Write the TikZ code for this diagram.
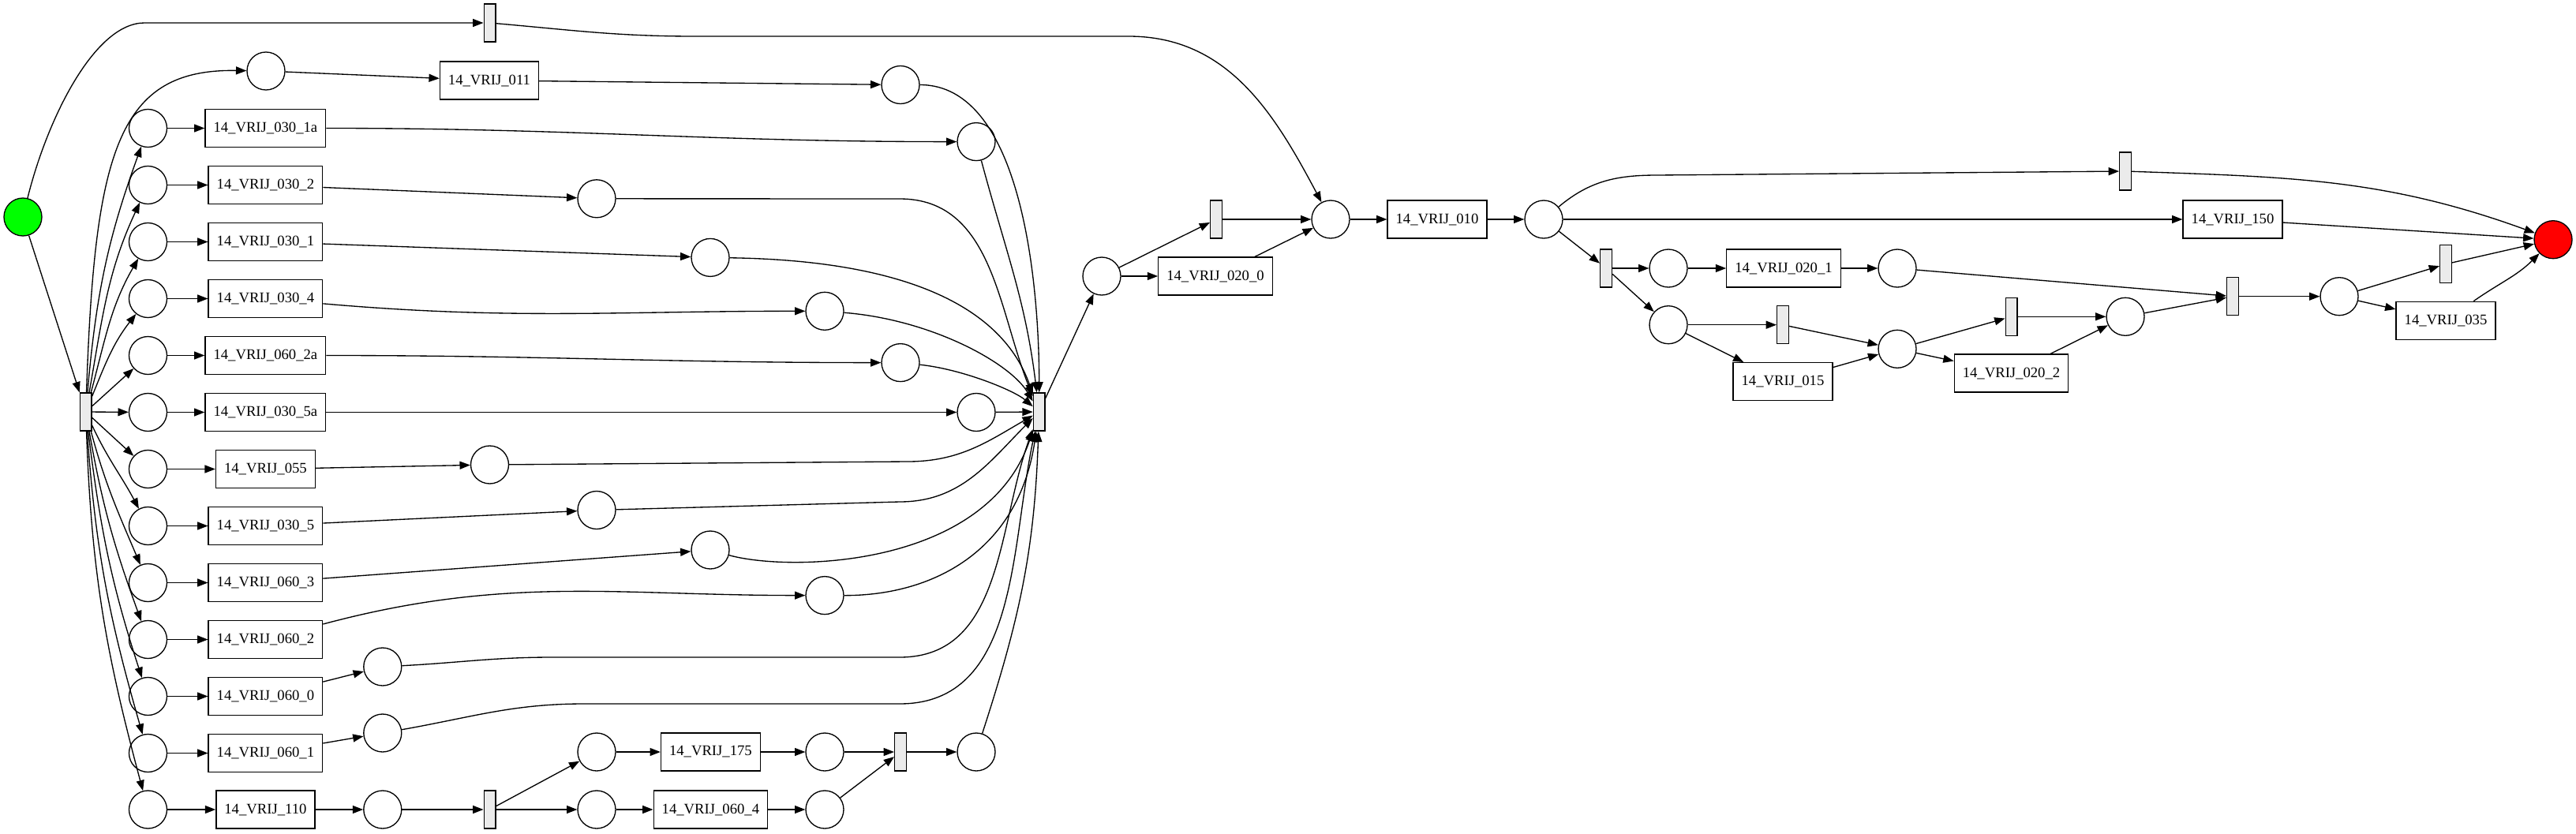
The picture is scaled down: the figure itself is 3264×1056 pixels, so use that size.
\documentclass[tikz,border=0pt]{standalone}
\usepackage{fontspec}
\setmainfont{Liberation Serif}
\usetikzlibrary{arrows.meta}
\definecolor{silentgray}{HTML}{EBEBEB}
\definecolor{startgreen}{HTML}{00FF00}
\definecolor{endred}{HTML}{FF0000}

\begin{document}
\begin{tikzpicture}[
  x=0.75pt, y=0.75pt,
  >={Triangle[length=10pt,width=7.5pt]},
  line/.style={draw=black, line width=1pt},
  arrow/.style={->, draw=black, line width=1pt},
  place/.style={line, circle, minimum size=36pt, inner sep=0pt},
  silent/.style={line, fill=silentgray, minimum width=11pt, minimum height=36pt, inner sep=0pt},
  task/.style={line, minimum height=36pt, inner xsep=7.9pt, inner ysep=0pt, font=\fontsize{14}{16}\selectfont}
]
\useasboundingbox (0,0) rectangle (3264,-1056);

\node[place, fill=startgreen] (source) at (29,-275) {};
\node[silent] (tauFork) at (108.7,-522) {};
\node[silent] (tauTop) at (620.5,-29) {};

\node[place] (pIn011) at (337,-90) {};
\node[task] (a011) at (620,-102) {14\_VRIJ\_011};
\node[place] (pOut011) at (1141,-107.5) {};

\node[place] (pIn030a) at (187.5,-162.5) {};
\node[task] (a030a) at (336.4,-162.5) {14\_VRIJ\_030\_1a};
\node[place] (pOut030a) at (1237,-179.6) {};

\node[place] (pIn0302) at (187.5,-234.5) {};
\node[task] (a0302) at (336.4,-234.5) {14\_VRIJ\_030\_2};
\node[place] (pOut0302) at (756,-251.8) {};

\node[place] (pIn0301) at (187.5,-306.5) {};
\node[task] (a0301) at (336.4,-306.5) {14\_VRIJ\_030\_1};
\node[place] (pOut0301) at (900,-326.4) {};

\node[place] (pIn0304) at (187.5,-378.5) {};
\node[task] (a0304) at (336.4,-378.5) {14\_VRIJ\_030\_4};
\node[place] (pOut0304) at (1045,-394.3) {};

\node[place] (pIn0602a) at (187.5,-450.5) {};
\node[task] (a0602a) at (336.4,-450.5) {14\_VRIJ\_060\_2a};
\node[place] (pOut0602a) at (1141,-459.6) {};

\node[place] (pIn0305a) at (187.5,-522.5) {};
\node[task] (a0305a) at (336.4,-522.5) {14\_VRIJ\_030\_5a};
\node[place] (pOut0305a) at (1237,-522.5) {};

\node[place] (pIn055) at (187.5,-594.5) {};
\node[task] (a055) at (336.4,-594.5) {14\_VRIJ\_055};
\node[place] (pOut055) at (620.5,-589) {};

\node[place] (pIn0305) at (187.5,-666.5) {};
\node[task] (a0305) at (336.4,-666.5) {14\_VRIJ\_030\_5};
\node[place] (pOut0305) at (756,-646.5) {};

\node[place] (pIn0603) at (187.5,-738.5) {};
\node[task] (a0603) at (336.4,-738.5) {14\_VRIJ\_060\_3};
\node[place] (pOut0603) at (900,-697) {};

\node[place] (pIn0602) at (187.5,-810.5) {};
\node[task] (a0602) at (336.4,-810.5) {14\_VRIJ\_060\_2};
\node[place] (pOut0602) at (1045,-754.6) {};

\node[place] (pIn0600) at (187.5,-882.5) {};
\node[task] (a0600) at (336.4,-882.5) {14\_VRIJ\_060\_0};
\node[place] (pOut0600) at (484.8,-845) {};

\node[place] (pIn0601) at (187.5,-954.5) {};
\node[task] (a0601) at (336.4,-954.5) {14\_VRIJ\_060\_1};
\node[place] (pOut0601) at (484.8,-929) {};

\node[place] (pIn110) at (187.5,-1026) {};
\node[task] (a110) at (336.4,-1026) {14\_VRIJ\_110};
\node[place] (pOut110) at (484.8,-1026) {};

\node[silent] (tauSplit) at (620.5,-1026) {};
\node[place] (pIn175) at (756,-953) {};
\node[task] (a175) at (900.4,-953) {14\_VRIJ\_175};
\node[place] (pOut175) at (1045,-953) {};
\node[place] (pIn0604) at (756,-1026) {};
\node[task] (a0604) at (900.4,-1026) {14\_VRIJ\_060\_4};
\node[place] (pOut0604) at (1045,-1026) {};
\node[silent] (tauSync) at (1141,-953) {};
\node[place] (pSync) at (1237,-953) {};

\node[silent] (tauJoin) at (1316.7,-522) {};
\node[place] (pJoin) at (1396,-350) {};
\node[silent] (tauSkip0200) at (1541,-278) {};
\node[task] (a0200) at (1540,-350) {14\_VRIJ\_020\_0};
\node[place] (pIn010) at (1686,-278) {};
\node[task] (a010) at (1821,-278) {14\_VRIJ\_010};
\node[place] (pOut010) at (1956,-278) {};

\node[silent] (tauSkip150) at (2693,-217) {};
\node[task] (a150) at (2829,-278) {14\_VRIJ\_150};
\node[silent] (tauAnd) at (2035,-340) {};
\node[place] (pIn0201) at (2114,-340) {};
\node[task] (a0201) at (2260,-340) {14\_VRIJ\_020\_1};
\node[place] (pOut0201) at (2404,-340) {};
\node[place] (pIn015) at (2114,-411.7) {};
\node[silent] (tauSkip015) at (2259,-411.7) {};
\node[task] (a015) at (2259,-483.7) {14\_VRIJ\_015};
\node[place] (pOut015) at (2404,-442.3) {};
\node[silent] (tauSkip0202) at (2548.5,-401.3) {};
\node[task] (a0202) at (2548.5,-473) {14\_VRIJ\_020\_2};
\node[place] (pOut0202) at (2693,-401.3) {};
\node[silent] (tauSync2) at (2829,-375.7) {};
\node[place] (pIn035) at (2964,-375.7) {};
\node[silent] (tauSkip035) at (3099,-334.7) {};
\node[task] (a035) at (3099,-406.3) {14\_VRIJ\_035};
\node[place, fill=endred] (sink) at (3235,-303.7) {};

\draw[arrow] (source) -- (tauFork);
\draw[arrow] (source) .. controls (60,-150) and (120,-29) .. (183,-29) -- (tauTop);
\draw[arrow] (tauFork) .. controls (120,-190) and (150,-87) .. (pIn011);
\draw[arrow] (pIn011) -- (a011);
\draw[arrow] (a011) -- (pOut011);

\draw[arrow] (tauFork) to[out=85,in=250] (pIn030a);
\draw[arrow] (tauFork) to[out=80,in=245] (pIn0302);
\draw[arrow] (tauFork) to[out=75,in=240] (pIn0301);
\draw[arrow] (tauFork) to[out=68,in=232] (pIn0304);
\draw[arrow] (tauFork) -- (pIn0602a);
\draw[arrow] (tauFork) -- (pIn0305a);
\draw[arrow] (tauFork) -- (pIn055);
\draw[arrow] (tauFork) to[out=-65,in=118] (pIn0305);
\draw[arrow] (tauFork) to[out=-75,in=113] (pIn0603);
\draw[arrow] (tauFork) to[out=-80,in=110] (pIn0602);
\draw[arrow] (tauFork) to[out=-83,in=108] (pIn0600);
\draw[arrow] (tauFork) to[out=-86,in=106] (pIn0601);
\draw[arrow] (tauFork) to[out=-88,in=105] (pIn110);

\draw[arrow] (pIn030a) -- (a030a);
\draw[arrow] (pIn0302) -- (a0302);
\draw[arrow] (pIn0301) -- (a0301);
\draw[arrow] (pIn0304) -- (a0304);
\draw[arrow] (pIn0602a) -- (a0602a);
\draw[arrow] (pIn0305a) -- (a0305a);
\draw[arrow] (pIn055) -- (a055);
\draw[arrow] (pIn0305) -- (a0305);
\draw[arrow] (pIn0603) -- (a0603);
\draw[arrow] (pIn0602) -- (a0602);
\draw[arrow] (pIn0600) -- (a0600);
\draw[arrow] (pIn0601) -- (a0601);
\draw[arrow] (pIn110) -- (a110);

\draw[arrow] (a030a) to[out=0,in=180] (pOut030a);
\draw[arrow] (a0302) -- (pOut0302);
\draw[arrow] (a0301) -- (pOut0301);
\draw[arrow] (a0304) to[out=-5,in=180] (pOut0304);
\draw[arrow] (a0602a) to[out=0,in=180] (pOut0602a);
\draw[arrow] (a0305a) -- (pOut0305a);
\draw[arrow] (a055) -- (pOut055);
\draw[arrow] (a0305) -- (pOut0305);
\draw[arrow] (a0603) -- (pOut0603);
\draw[arrow] (a0602) to[out=15,in=180] (pOut0602);
\draw[arrow] (a0600) -- (pOut0600);
\draw[arrow] (a0601) -- (pOut0601);
\draw[arrow] (a110) -- (pOut110);

\draw[arrow] (pOut011) to[out=0,in=90,looseness=0.8] (tauJoin);
\draw[arrow] (pOut030a) to[out=-75,in=97] (tauJoin);
\draw[arrow] (pOut0302) -- (1140,-252) to[out=0,in=112] (tauJoin);
\draw[arrow] (pOut0301) .. controls (1150,-330) and (1270,-390) .. (tauJoin);
\draw[arrow] (pOut0304) .. controls (1180,-405) and (1280,-460) .. (tauJoin);
\draw[arrow] (pOut0602a) .. controls (1220,-468) and (1285,-495) .. (tauJoin);
\draw[arrow] (pOut0305a) -- (tauJoin);
\draw[arrow] (pOut055) -- (1150,-585) to[out=0,in=210] (tauJoin);
\draw[arrow] (pOut0305) -- (1140,-636) to[out=0,in=225] (tauJoin);
\draw[arrow] (pOut0603) .. controls (1000,-725) and (1250,-720) .. (tauJoin);
\draw[arrow] (pOut0602) .. controls (1180,-755) and (1290,-700) .. (tauJoin);
\draw[arrow] (pOut0600) to[out=3,in=180] (700,-833) -- (1140,-833) to[out=0,in=250] (tauJoin);
\draw[arrow] (pOut0601) to[out=10,in=180] (740,-892) -- (1140,-892) to[out=0,in=258] (tauJoin);
\draw[arrow] (pSync) to[out=72,in=268] (tauJoin);

\draw[arrow] (pOut110) -- (tauSplit);
\draw[arrow] (tauSplit) -- (pIn175);
\draw[arrow] (tauSplit) -- (pIn0604);
\draw[arrow] (pIn175) -- (a175);
\draw[arrow] (a175) -- (pOut175);
\draw[arrow] (pOut175) -- (tauSync);
\draw[arrow] (pIn0604) -- (a0604);
\draw[arrow] (a0604) -- (pOut0604);
\draw[arrow] (pOut0604) -- (tauSync);
\draw[arrow] (tauSync) -- (pSync);

\draw[arrow] (tauJoin) -- (pJoin);
\draw[arrow] (pJoin) -- (tauSkip0200);
\draw[arrow] (pJoin) -- (a0200);
\draw[arrow] (tauSkip0200) -- (pIn010);
\draw[arrow] (a0200) -- (pIn010);
\draw[arrow] (tauTop) to[out=-5,in=180] (880,-46) -- (1430,-46) to[out=0,in=118] (pIn010);
\draw[arrow] (pIn010) -- (a010);
\draw[arrow] (a010) -- (pOut010);

\draw[arrow] (pOut010) to[out=40,in=180] (2100,-222) -- (tauSkip150);
\draw[arrow] (pOut010) -- (a150);
\draw[arrow] (pOut010) -- (tauAnd);
\draw[arrow] (tauAnd) -- (pIn0201);
\draw[arrow] (tauAnd) -- (pIn015);
\draw[arrow] (pIn0201) -- (a0201);
\draw[arrow] (a0201) -- (pOut0201);
\draw[arrow] (pOut0201) -- (tauSync2);
\draw[arrow] (pIn015) -- (tauSkip015);
\draw[arrow] (pIn015) -- (a015);
\draw[arrow] (tauSkip015) -- (pOut015);
\draw[arrow] (a015) -- (pOut015);
\draw[arrow] (pOut015) -- (tauSkip0202);
\draw[arrow] (pOut015) -- (a0202);
\draw[arrow] (tauSkip0202) -- (pOut0202);
\draw[arrow] (a0202) -- (pOut0202);
\draw[arrow] (pOut0202) -- (tauSync2);
\draw[arrow] (tauSync2) -- (pIn035);
\draw[arrow] (pIn035) -- (tauSkip035);
\draw[arrow] (pIn035) -- (a035);

\draw[arrow] (tauSkip035) -- (sink);
\draw[arrow] (a035) to[out=35,in=225] (sink);
\draw[arrow] (a150) -- (sink);
\draw[arrow] (tauSkip150) to[out=-2,in=160] (sink);

\end{tikzpicture}
\end{document}
